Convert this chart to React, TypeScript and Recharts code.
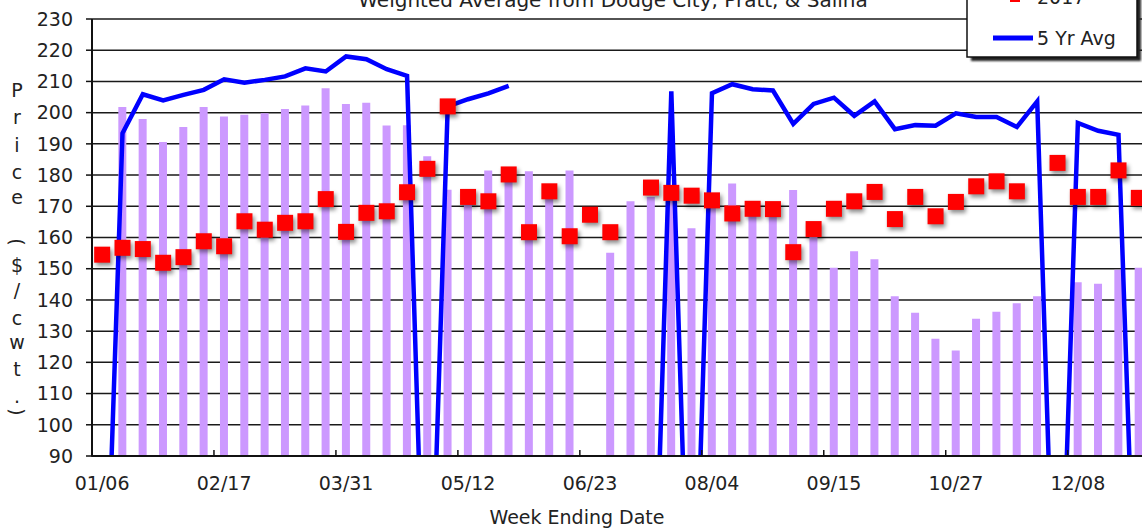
import React from "react";
import { Bar, CartesianGrid, ComposedChart, Line, XAxis, YAxis } from "recharts";

// week ending dates (2018)
const weeks = [
  "01/06", "01/13", "01/20", "01/27", "02/03", "02/10", "02/17", "02/24", "03/03", "03/10",
  "03/17", "03/24", "03/31", "04/07", "04/14", "04/21", "04/28", "05/05", "05/12", "05/19",
  "05/26", "06/02", "06/09", "06/16", "06/23", "06/30", "07/07", "07/14", "07/21", "07/28",
  "08/04", "08/11", "08/18", "08/25", "09/01", "09/08", "09/15", "09/22", "09/29", "10/06",
  "10/13", "10/20", "10/27", "11/03", "11/10", "11/17", "11/24", "12/01", "12/08", "12/15",
  "12/22", "12/29",
];

const price2018 = [
  null, 201.8, 198, 190.6, 195.4, 201.8, 198.8, 199.3, 199.8, 201.2,
  202.3, 207.8, 202.8, 203.2, 195.9, 196, 186, 175.3, 172, 181.5,
  178, 181.2, 173, 181.5, null, 155.1, 171.6, 173, 172, 163,
  171, 177.3, 168, 168, 175.2, 161, 150.3, 155.6, 153, 141.2,
  135.9, 127.6, 123.8, 134, 136.2, 138.9, 141.2, null, 145.7, 145.2,
  149.7, 150.3,
];

const price2017 = [
  154.5, 156.7, 156.3, 151.9, 153.7, 158.8, 157.2, 165.2, 162.5, 164.7,
  165.2, 172.3, 161.8, 167.9, 168.4, 174.5, 182, 202, 173, 171.6,
  180.2, 161.7, 174.8, 160.4, 167.3, 161.7, null, 176, 174.3, 173.4,
  171.9, 167.7, 169.2, 169.1, 155.3, 162.7, 169.2, 171.6, 174.6, 165.9,
  173, 166.8, 171.4, 176.4, 178, 174.8, null, 183.9, 173, 173,
  181.5, 172.7,
];

const fiveYrAvg = [
  0, 193.4, 205.9, 203.9, 205.7, 207.3, 210.7, 209.6, 210.5, 211.6,
  214.2, 213.2, 218, 217.1, 213.9, 211.8, 0, 202, 204.3, 206.2,
  208.6, null, null, null, null, null, null, 0, 206.8, 0,
  206.2, 209.1, 207.5, 207.1, 196.4, 202.8, 204.8, 199, 203.6, 194.7,
  196, 195.8, 199.8, 198.6, 198.6, 195.4, 203.6, 0, 196.7, 194.2,
  192.9, 0,
];

const yTicks = [90, 100, 110, 120, 130, 140, 150, 160, 170, 180, 190, 200, 210, 220, 230];

const title = "Weighted Average from Dodge City, Pratt, & Salina";
const xTitle = "Week Ending Date";
const legendItems = ["2018", "2017", "5 Yr Avg"];

const data = weeks.map((week, i) => ({
  week,
  y2018: price2018[i],
  y2017: price2017[i],
  avg5: fiveYrAvg[i],
}));

const FONT = "DejaVu Sans";
const CHART_W = 1160;
const Y_AXIS_W = 92;
const RIGHT_MARGIN = 11;
const HALF_BAND = (CHART_W - Y_AXIS_W - RIGHT_MARGIN) / weeks.length / 2;

function WeekTick(props: any) {
  const { x, y, payload } = props;
  return (
    <g>
      <line x1={x - HALF_BAND} x2={x - HALF_BAND} y1={y - 6} y2={y + 1} stroke="#111" strokeWidth={1.5} />
      <text x={x} y={y + 34} textAnchor="middle" fontSize={19} fill="#222" fontFamily={FONT}>
        {payload.value}
      </text>
    </g>
  );
}

function Square(props: any) {
  const { cx, cy, index, value } = props;
  if (cx == null || cy == null || value == null) return <g key={`sq-${index}`} />;
  return (
    <rect
      key={`sq-${index}`}
      x={cx - 8}
      y={cy - 8}
      width={16}
      height={16}
      fill="#ff0000"
      style={{ filter: "drop-shadow(2px 3px 2px rgba(0,0,0,0.45))" }}
    />
  );
}

// stacked y-axis label, (char, y centre)
const yLabel: Array<[string, number]> = [
  ["P", 90], ["r", 117], ["i", 145], ["c", 172], ["e", 197],
  ["(", 242], ["$", 265], ["/", 290], ["c", 318], ["w", 342],
  ["t", 369], [".", 396], [")", 412],
];

function Overlay() {
  return (
    <svg width={1142} height={531} style={{ position: "absolute", left: 0, top: 0, pointerEvents: "none" }}>
      <text x={613} y={7} textAnchor="middle" fontSize={20} fill="#222" fontFamily={FONT}>
        {title}
      </text>
      <text x={577} y={524} textAnchor="middle" fontSize={19} fill="#222" fontFamily={FONT}>
        {xTitle}
      </text>
      {yLabel.map(([ch, cy], i) => (
        <text
          key={i}
          x={17}
          y={cy}
          textAnchor="middle"
          dominantBaseline="central"
          fontSize={19}
          fill="#222"
          fontFamily={FONT}
          transform={ch === "(" || ch === ")" ? `rotate(90 17 ${cy})` : undefined}
        >
          {ch}
        </text>
      ))}
      {/* legend box, top part is cut off */}
      <rect x={971} y={-60} width={170} height={121} fill="#222" style={{ filter: "blur(1px)" }} />
      <rect x={967} y={-64} width={170} height={121} fill="#fff" stroke="#111" strokeWidth={1.5} />
      <rect x={1007} y={-47} width={16} height={9} fill="#cc99ff" />
      <text x={1037} y={-36} fontSize={19} fill="#222" fontFamily={FONT}>{legendItems[0]}</text>
      <rect x={1010} y={-8} width={10} height={10} fill="#ff0000" />
      <text x={1037} y={4} fontSize={19} fill="#222" fontFamily={FONT}>{legendItems[1]}</text>
      <line x1={993} x2={1033} y1={38} y2={38} stroke="#0000ff" strokeWidth={5} />
      <text x={1037} y={45} fontSize={19} fill="#222" fontFamily={FONT}>{legendItems[2]}</text>
    </svg>
  );
}

export default function App() {
  return (
    <div
      style={{
        position: "absolute",
        left: 0,
        top: 0,
        width: 1142,
        height: 531,
        overflow: "hidden",
        background: "#fff",
        fontFamily: FONT,
      }}
    >
      <ComposedChart
        width={CHART_W}
        height={531}
        data={data}
        margin={{ top: 19, right: RIGHT_MARGIN, left: 0, bottom: 0 }}
        barCategoryGap={0}
      >
        <XAxis
          dataKey="week"
          interval={5}
          tick={<WeekTick />}
          tickLine={false}
          tickSize={0}
          tickMargin={0}
          height={75}
          axisLine={{ stroke: "#111", strokeWidth: 2 }}
        />
        <YAxis
          width={Y_AXIS_W}
          domain={[90, 230]}
          ticks={yTicks}
          allowDataOverflow
          interval={0}
          tickSize={6}
          tickMargin={13}
          tickLine={{ stroke: "#111", strokeWidth: 1.5 }}
          axisLine={{ stroke: "#111", strokeWidth: 2 }}
          tick={{ fontSize: 19, fill: "#222", fontFamily: FONT }}
        />
        <Bar dataKey="y2018" name="2018" fill="#cc99ff" barSize={8} isAnimationActive={false} />
        <CartesianGrid vertical={false} stroke="#1a1a1a" strokeWidth={1.5} />
        <Line
          dataKey="avg5"
          name="5 Yr Avg"
          stroke="#0000ff"
          strokeWidth={4.5}
          dot={false}
          activeDot={false}
          isAnimationActive={false}
        />
        <Line
          dataKey="y2017"
          name="2017"
          stroke="none"
          dot={<Square />}
          activeDot={false}
          isAnimationActive={false}
        />
      </ComposedChart>
      <Overlay />
    </div>
  );
}
